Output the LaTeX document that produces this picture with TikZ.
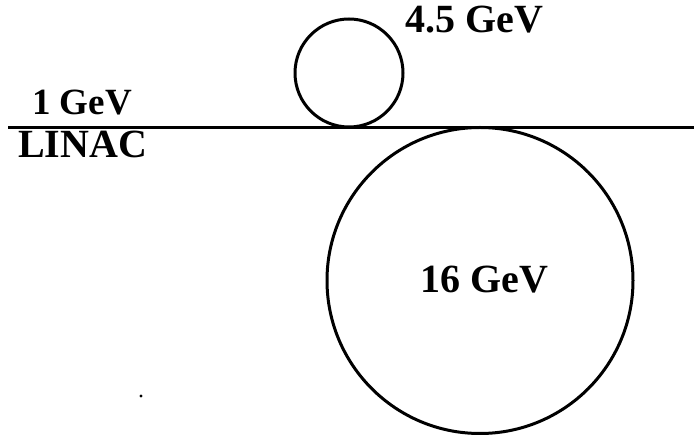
\documentclass[tikz,border=0pt]{standalone}
\usepackage{fontspec}
\setmainfont{Liberation Serif}
\begin{document}
\begin{tikzpicture}[x=1pt,y=-1pt,
  ring/.style={draw=black,line width=3pt},
  lbl/.style={font=\fontsize{40}{44}\selectfont\bfseries,inner sep=0pt,anchor=base west}]
\useasboundingbox[fill=white] (0,0) rectangle (694,435);
\coordinate (l0) at (8,127.5);
\coordinate (l1) at (694,127.5);
\draw[line width=3pt] (l0) -- (l1);
\node[ring,circle,minimum size=108pt,inner sep=0pt] (small) at (349,73) {};
\node[ring,circle,minimum size=306pt,inner sep=0pt] (big) at (480,280.5) {};
\node[lbl] (e45) at (405,33) {4.5 GeV};
\node[lbl,font=\fontsize{37}{40}\selectfont\bfseries] (e1) at (32,115) {1 GeV};
\node[lbl] (linac) at (18,158) {LINAC};
\node[lbl] (e16) at (420,293) {16 GeV};
\fill (141,396) circle (1.6pt);
\end{tikzpicture}
\end{document}
